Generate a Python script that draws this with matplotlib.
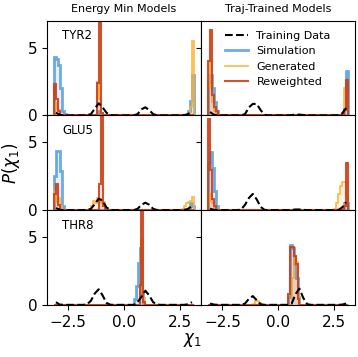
import numpy as np
import matplotlib.pyplot as plt

# chi1 histograms: 72 bins over [-pi, pi]; sparse series are {first bin index: heights}
N_BINS = 72
edges = np.linspace(-np.pi, np.pi, N_BINS + 1)
# training data: 36 coarse bin centres
train_x = np.linspace(-np.pi, np.pi, 37)[:-1] + np.pi / 36

residues = ["TYR2", "GLU5", "THR8"]
columns = ["Energy Min Models", "Traj-Trained Models"]

# ---- TYR2 ----
tyr2_em_train = [0.2, 0.05, 0, 0, 0, 0, 0, 0, 0.02, 0.1, 0.5, 0.9, 0.6, 0.2, 0.03, 0, 0, 0,
                 0, 0, 0, 0.1, 0.45, 0.6, 0.4, 0.1, 0.01, 0, 0, 0, 0, 0, 0, 0.02, 0.1, 0.35]
tyr2_em_sim = {0: [4.3, 4.2, 3.7, 2.0, 0.3, 0.1], 22: [0.3], 69: [0.3, 1.1, 3.0]}
tyr2_em_gen = {0: [0.5, 0.9, 0.4], 22: [2.5, 1.2], 70: [0.6, 5.5]}
tyr2_em_rew = {0: [2.3, 1.2, 0.3], 22: [2.4, 9.0, 0.2]}

tyr2_tt_train = [0.25, 0.05, 0, 0, 0, 0, 0, 0, 0, 0.1, 0.6, 0.85, 0.85, 0.4, 0.05, 0, 0, 0,
                 0, 0, 0, 0.03, 0.06, 0.06, 0.03, 0, 0, 0, 0, 0, 0, 0, 0, 0.02, 0.15, 0.55]
tyr2_tt_sim = {0: [2.5, 3.0, 2.0, 1.0, 0.3], 70: [0.5, 3.3]}
tyr2_tt_gen = {0: [2.0, 4.0, 1.0, 0.3], 70: [2.0, 1.5]}
tyr2_tt_rew = {0: [4.0, 6.3, 1.5, 0.6, 0.3], 70: [0.4, 2.6]}

# ---- GLU5 ----
glu5_em_train = [0.15, 0.03, 0, 0, 0, 0, 0, 0, 0.02, 0.1, 0.45, 0.85, 0.7, 0.2, 0.02, 0, 0, 0,
                 0, 0, 0, 0.1, 0.4, 0.55, 0.4, 0.1, 0.01, 0, 0, 0, 0, 0, 0, 0.02, 0.1, 0.3]
glu5_em_sim = {0: [2.5, 4.4, 4.4, 2.9, 0.3], 70: [0.5, 0.3]}
glu5_em_gen = {0: [1.4, 0.6, 0.9, 0.3], 19: [0.3, 0.7, 0.5, 0.9, 0.8, 0.5, 0.6, 0.2],
               66: [0.1, 0.3, 0.5, 0.6, 0.7, 1.0]}
glu5_em_rew = {0: [1.2, 1.9, 0.4], 23: [1.9, 9.0, 0.3]}

glu5_tt_train = [0.1, 0.02, 0, 0, 0, 0, 0, 0, 0.05, 0.4, 0.9, 1.2, 0.8, 0.25, 0.02, 0, 0, 0,
                 0, 0, 0, 0.02, 0.05, 0.05, 0.02, 0, 0, 0, 0, 0, 0, 0, 0, 0.02, 0.2, 0.6]
glu5_tt_sim = {0: [3.5, 4.3, 3.1, 1.4, 0.3], 70: [0.5, 0.5]}
glu5_tt_gen = {0: [0.7, 1.2, 0.5], 65: [0.1, 0.5, 1.2, 1.8, 2.1, 2.1, 1.0]}
glu5_tt_rew = {0: [6.7, 3.0, 0.8, 0.3], 70: [0.3, 3.5]}

# ---- THR8 ----
thr8_em_train = [0.2, 0.02, 0, 0, 0, 0, 0, 0, 0.05, 0.3, 0.85, 1.15, 0.7, 0.15, 0.01, 0, 0, 0,
                 0, 0, 0, 0.2, 0.6, 1.05, 0.7, 0.2, 0.02, 0, 0, 0, 0, 0, 0, 0, 0.05, 0.2]
thr8_em_sim = {41: [0.4, 1.4, 3.1, 4.2, 0.8]}
thr8_em_gen = {44: [1.0, 4.8, 0.5]}
thr8_em_rew = {44: [1.5, 9.0, 0.2]}

thr8_tt_train = [0.1, 0.02, 0, 0, 0, 0, 0, 0, 0, 0.1, 0.45, 0.65, 0.35, 0.05, 0, 0, 0, 0,
                 0, 0, 0, 0.1, 0.8, 1.2, 0.5, 0.05, 0, 0, 0, 0, 0, 0, 0, 0, 0.02, 0.1]
thr8_tt_sim = {41: [0.6, 4.4, 4.2, 3.0, 2.0, 0.6]}
thr8_tt_gen = {23: [0.1, 0.3, 0.3, 0.15], 43: [2.0, 3.5, 3.2, 1.0]}
thr8_tt_rew = {41: [0.8, 4.3, 4.3, 3.6, 3.0, 0.4]}

panels = [
    [(tyr2_em_train, tyr2_em_sim, tyr2_em_gen, tyr2_em_rew),
     (tyr2_tt_train, tyr2_tt_sim, tyr2_tt_gen, tyr2_tt_rew)],
    [(glu5_em_train, glu5_em_sim, glu5_em_gen, glu5_em_rew),
     (glu5_tt_train, glu5_tt_sim, glu5_tt_gen, glu5_tt_rew)],
    [(thr8_em_train, thr8_em_sim, thr8_em_gen, thr8_em_rew),
     (thr8_tt_train, thr8_tt_sim, thr8_tt_gen, thr8_tt_rew)],
]


def expand(sparse):
    h = np.zeros(N_BINS)
    for start, vals in sparse.items():
        h[start:start + len(vals)] = vals
    return h


C_SIM = "#3d8fdc"
C_GEN = "#fdb02e"
C_REW = "#cc3f17"

fig, axes = plt.subplots(3, 2, figsize=(3.58, 3.57), dpi=100, sharex=True, sharey=True)
fig.subplots_adjust(left=0.131, right=0.992, top=0.942, bottom=0.146, hspace=0, wspace=0)

for r in range(3):
    for c in range(2):
        ax = axes[r, c]
        train, sim, gen, rew = panels[r][c]
        ax.plot(train_x, train, color="black", ls="--", lw=1.5, label="Training Data")
        for data, col, lw, a, lab in [(sim, C_SIM, 2.0, 0.75, "Simulation"),
                                     (gen, C_GEN, 1.2, 0.9, "Generated"),
                                     (rew, C_REW, 1.5, 0.9, "Reweighted")]:
            h = expand(data)
            ax.stairs(h, edges, fill=True, color=col, alpha=0.13, lw=0)
            ax.stairs(h, edges, color=col, lw=lw, alpha=a, label=lab)
        ax.set_xlim(-3.46, 3.46)
        ax.set_ylim(0, 7)
        ax.set_yticks([0, 5])
        ax.set_xticks([-2.5, 0.0, 2.5])
        ax.tick_params(labelsize=11)
        if c == 0:
            ax.text(0.1, 0.84, residues[r], transform=ax.transAxes, fontsize=8.5, va="center")
        if r == 0:
            ax.set_title(columns[c], fontsize=8)

axes[0, 1].legend(loc="upper center", frameon=False, fontsize=8)

fig.text(0.031, 1 - 163.5 / 357, r"$P(\chi_1)$", rotation=90, fontsize=12, ha="center", va="center")
fig.text(192 / 358, 1 - 340 / 357, r"$\chi_1$", fontsize=12, ha="center", va="center")

plt.savefig("out.png", dpi=100)
